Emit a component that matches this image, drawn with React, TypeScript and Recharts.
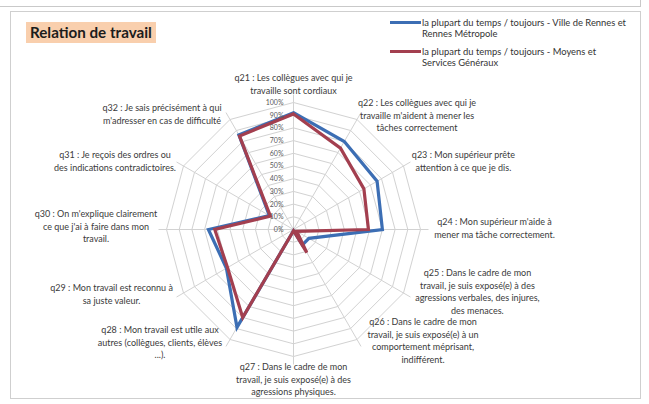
import React from 'react';
import { RadarChart, Radar, PolarGrid, PolarAngleAxis, PolarRadiusAxis } from 'recharts';

const categories = ['q21', 'q22', 'q23', 'q24', 'q25', 'q26', 'q27', 'q28', 'q29', 'q30', 'q31', 'q32'];

const categoryLabels: string[][] = [
  ['q21 : Les collègues avec qui je', 'travaille sont cordiaux'],
  ['q22 : Les collègues avec qui je', "travaille m'aident à mener les", 'tâches correctement'],
  ['q23 : Mon supérieur prête', 'attention à ce que je dis.'],
  ["q24 : Mon supérieur m'aide à", 'mener ma tâche correctement.'],
  ['q25 : Dans le cadre de mon', 'travail, je suis exposé(e) à des', 'agressions verbales, des injures,', 'des menaces.'],
  ['q26 : Dans le cadre de mon', 'travail, je suis exposé(e) à un', 'comportement méprisant,', 'indifférent.'],
  ['q27 : Dans le cadre de mon', 'travail, je suis exposé(e) à des', 'agressions physiques.'],
  ['q28 : Mon travail est utile aux', 'autres (collègues, clients, élèves', '...).'],
  ['q29 : Mon travail est reconnu à', 'sa juste valeur.'],
  ["q30 : On m'explique clairement", "ce que j'ai à faire dans mon", 'travail.'],
  ['q31 : Je reçois des ordres ou', 'des indications contradictoires.'],
  ['q32 : Je sais précisément à qui', "m'adresser en cas de difficulté"],
];

const villeRennes = [92, 80, 76, 70, 14, 14, 1, 89, 61, 67, 22, 86];
const moyensServices = [91, 74, 64, 59, 3, 21, 1, 80, 60, 62, 21, 85];

const radiusTicks = [0, 10, 20, 30, 40, 50, 60, 70, 80, 90, 100];

const seriesNames = [
  ['la plupart du temps / toujours - Ville de Rennes et', 'Rennes Métropole'],
  ['la plupart du temps / toujours - Moyens et', 'Services Généraux'],
];

const title = 'Relation de travail';

// label placement offsets (layout only)
const labelOffsets = [
  { dx: 0, dy: -16.5 },
  { dx: 56, dy: -9.6 },
  { dx: 53, dy: -7 },
  { dx: 66, dy: -7.5 },
  { dx: 67, dy: -24 },
  { dx: 62, dy: -24.4 },
  { dx: 0, dy: 2.5 },
  { dx: -66, dy: -16.4 },
  { dx: -65, dy: -9 },
  { dx: -62.5, dy: -15.5 },
  { dx: -61.6, dy: -7 },
  { dx: -64, dy: -4.6 },
];

const data = categories.map((c, i) => ({ cat: c, ville: villeRennes[i], moyens: moyensServices[i] }));

const FONT = 'Lato, "Open Sans", sans-serif';
const BLUE = '#3c6eb4';
const RED = '#a33f4f';

const CategoryTick = (props: any) => {
  const { x, y, payload } = props;
  const idx = categories.indexOf(payload.value);
  const lines = categoryLabels[idx] || [];
  const off = labelOffsets[idx] || { dx: 0, dy: 0 };
  const tx = x + off.dx;
  const ty = y + off.dy;
  return (
    <text x={tx} y={ty} textAnchor="middle" fontSize={9} fill="#3a3a3a" fontFamily={FONT}>
      {lines.map((l, i) => (
        <tspan key={i} x={tx} y={ty + i * 12.6} dy="0.35em">
          {l}
        </tspan>
      ))}
    </text>
  );
};

const RadiusTick = (props: any) => {
  const { x, y, payload } = props;
  return (
    <text x={x - 10} y={y} dy="0.35em" textAnchor="end" fontSize={7} fill="#595959" fontFamily={FONT}>
      {payload.value}%
    </text>
  );
};

export default function App() {
  return (
    <div style={{ position: 'absolute', left: 0, top: 0, width: 649, height: 404, background: '#fff', overflow: 'hidden' }}>
      <div style={{ position: 'absolute', left: 0, top: 0, width: 640, height: 6, borderBottom: '1.5px solid #c9c9c9', borderRight: '1.5px solid #c9c9c9' }} />
      <div style={{ position: 'absolute', left: 10, top: 11, width: 631, height: 388, border: '1.5px solid #cfcfcf', boxSizing: 'border-box' }} />
      <div style={{ position: 'absolute', left: 0, top: 0 }}>
        <RadarChart width={649} height={404} data={data} cx={293.5} cy={229.5} outerRadius={127} startAngle={90} endAngle={-270} margin={{ top: 0, right: 0, bottom: 0, left: 0 }}>
          <PolarGrid gridType="polygon" stroke="#d2d2d2" strokeWidth={1} />
          <PolarAngleAxis dataKey="cat" tick={<CategoryTick />} axisLine={false} tickLine={{ stroke: '#d2d2d2' }} tickSize={8} />
          <PolarRadiusAxis angle={90} domain={[0, 100]} ticks={radiusTicks as any} tickCount={11} tick={<RadiusTick />} axisLine={false} tickLine={false} />
          <Radar dataKey="ville" stroke={BLUE} strokeWidth={3.2} fill="none" fillOpacity={0} dot={false} isAnimationActive={false} />
          <Radar dataKey="moyens" stroke={RED} strokeWidth={3.2} fill="none" fillOpacity={0} dot={false} isAnimationActive={false} />
        </RadarChart>
      </div>
      <div style={{ position: 'absolute', left: 26, top: 22, width: 130, height: 21, background: '#f9cfad' }} />
      <div style={{ position: 'absolute', left: 30, top: 22, height: 21, lineHeight: '21px', fontFamily: FONT, fontWeight: 700, fontSize: 15.2, color: '#1c1c1c', whiteSpace: 'nowrap' }}>
        {title}
      </div>
      {seriesNames.map((lines, i) => (
        <div key={i}>
          <div style={{ position: 'absolute', left: 390, top: (i === 0 ? 22.7 : 51.7) - 1.25, width: 31, height: 2.5, background: i === 0 ? BLUE : RED }} />
          {lines.map((l, j) => (
            <div key={j} style={{ position: 'absolute', left: 422, top: (i === 0 ? 22.7 : 51.7) + j * 10.8 - 6, height: 12, lineHeight: '12px', fontFamily: FONT, fontSize: 9.4, color: '#333', whiteSpace: 'nowrap' }}>
              {l}
            </div>
          ))}
        </div>
      ))}
    </div>
  );
}
